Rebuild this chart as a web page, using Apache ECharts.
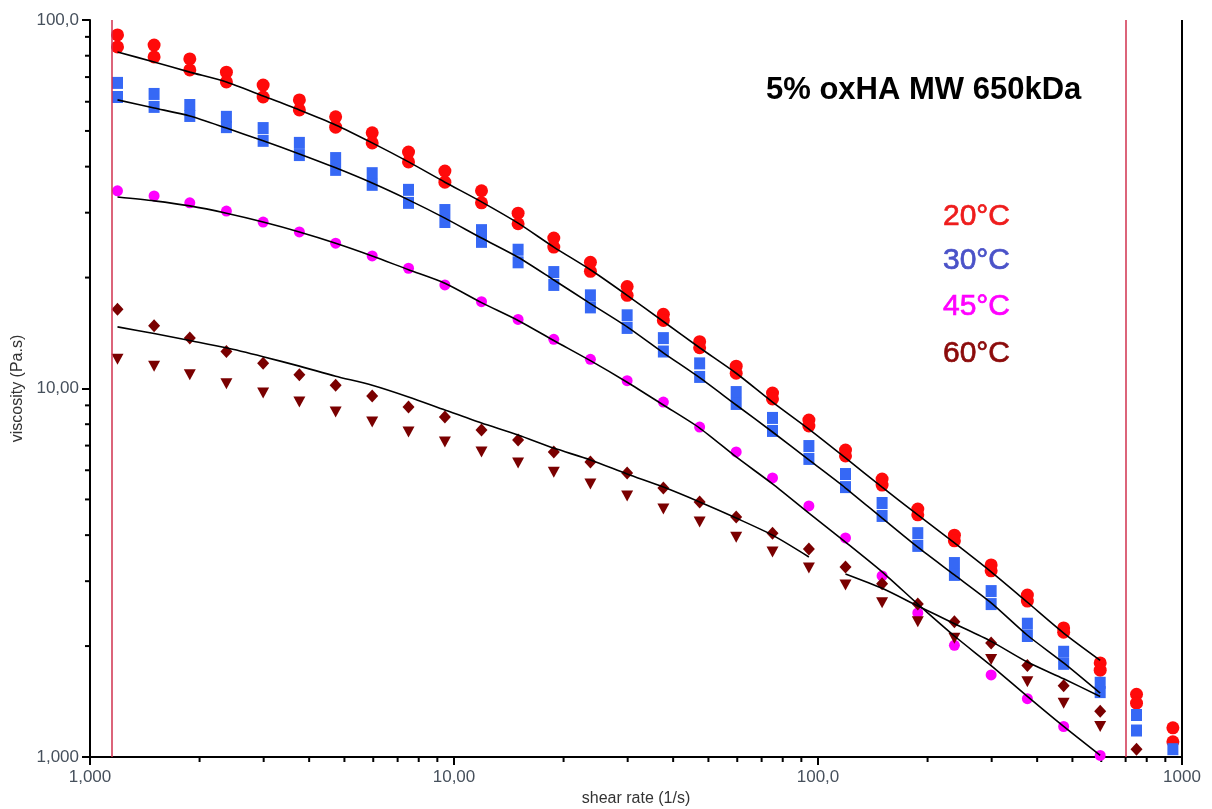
<!DOCTYPE html>
<html><head><meta charset="utf-8">
<script src="https://cdn.jsdelivr.net/npm/echarts@6/dist/echarts.min.js"></script>
<style>html,body{margin:0;padding:0;background:#fff}#chart{width:1212px;height:809px}</style>
</head><body><div id="chart"></div>
<script>
// ---- data ----
const shearRate = [1.19,1.50,1.88,2.37,2.99,3.76,4.73,5.96,7.50,9.44,11.9,15.0,18.8,23.7,29.9,37.6,47.3,59.6,75.0,94.4,119,150,188,237,299,376,473,596,750,944];

const red20A = [91.1,85.5,78.4,72.2,66.6,60.7,54.6,49.4,43.8,38.9,34.4,29.9,25.6,22.0,18.9,15.9,13.4,11.5,9.72,8.21,6.81,5.68,4.71,4.00,3.32,2.75,2.24,1.80,1.48,1.20];
const red20B = [84.5,79.4,73.2,67.9,61.8,57.0,51.2,46.4,41.2,36.3,31.9,28.0,24.2,20.8,17.9,15.3,12.9,11.0,9.37,7.91,6.56,5.47,4.54,3.86,3.20,2.65,2.18,1.72,1.40,1.10];
const blue30A = [67.5,63.0,58.8,54.6,50.9,46.4,42.2,38.4,34.6,30.5,26.9,23.8,20.7,17.9,15.8,13.7,11.7,9.78,8.32,6.98,5.86,4.89,4.05,3.36,2.82,2.30,1.93,1.59,1.30,1.05];
const blue30B = [61.8,58.1,54.9,51.2,47.0,43.0,39.2,35.7,31.9,28.3,25.0,22.0,19.1,16.6,14.6,12.6,10.75,9.08,7.67,6.44,5.40,4.51,3.74,3.12,2.60,2.13,1.79,1.50,1.18,null];
const mag45 = [34.4,33.3,31.9,30.3,28.3,26.6,24.8,22.9,21.2,19.1,17.2,15.4,13.6,12.0,10.5,9.19,7.86,6.73,5.72,4.80,3.93,3.10,2.46,2.01,1.67,1.44,1.21,1.01,null,null];
const dark60Diamond = [16.4,14.8,13.7,12.6,11.7,10.9,10.2,9.54,8.91,8.37,7.72,7.25,6.73,6.32,5.90,5.37,4.92,4.48,4.05,3.67,3.28,2.95,2.60,2.33,2.04,1.77,1.56,1.33,1.05,null];
const dark60Triangle = [12.0,11.5,10.9,10.3,9.72,9.19,8.63,8.11,7.62,7.16,6.73,6.28,5.93,5.51,5.11,4.71,4.34,3.95,3.60,3.26,2.93,2.62,2.33,2.10,1.84,1.60,1.40,1.21,null,null];

// fitted model curves (black lines)
const red20Fit = [81.9,76.9,72.2,67.9,62.2,57.0,51.9,46.4,41.2,36.3,32.1,28.1,24.2,21.0,17.9,15.2,12.9,11.0,9.19,7.76,6.48,5.40,4.54,3.81,3.18,2.63,2.17,1.83];
const blue30Fit = [60.7,57.7,54.9,50.9,47.0,43.3,39.7,36.1,32.5,29.0,25.6,22.7,19.7,17.0,14.7,12.5,10.7,9.02,7.62,6.40,5.37,4.45,3.71,3.12,2.62,2.14,1.80,1.49];
const mag45Fit = [33.1,32.3,31.3,29.9,28.3,26.6,24.8,22.9,21.0,19.3,17.1,15.3,13.5,11.9,10.4,9.02,7.81,6.52,5.51,4.59,3.83,3.18,2.60,2.13,1.77,1.46,1.21,1.01];
const dark60Fit1 = [14.7,14.1,13.5,12.9,12.2,11.5,10.8,10.2,9.48,8.74,8.06,7.48,6.89,6.40,5.86,5.40,4.92,4.45,4.00,3.49];
const dark60Fit2 = [3.14,2.87,2.57,2.30,2.06,1.81,1.63,1.46];
const dark60Fit2Start = 20;

// range limits (red vertical lines) and right frame
const rangeLimits = [1.149, 702];
const rightFrame = 1000;

// axes
const xTickValues = [1,10,100,1000];
const xTickLabels = ["1,000","10,00","100,0","1000"];
const yTickValues = [1,10,100];
const yTickLabels = ["1,000","10,00","100,0"];
const xMinorTicks = [2,3,4,5,6,7,8,9,20,30,40,50,60,70,80,90,200,300,400,500,600,700,800,900];
const yMinorTicks = [2,3,4,5,6,7,8,9,20,30,40,50,60,70,80,90];

const titleText = "5% oxHA MW 650kDa";
const legendLabels = ["20°C","30°C","45°C","60°C"];

// ---- chart ----
function pairs(ys, start) {
  start = start || 0;
  const out = [];
  ys.forEach((v, i) => { if (v != null) out.push([shearRate[i + start], v]); });
  return out;
}
function lookup(vals, labels, v) {
  for (let i = 0; i < vals.length; i++) if (Math.abs(v - vals[i]) / vals[i] < 1e-6) return labels[i];
  return '';
}
const labelColor = '#46505c';
const chart = echarts.init(document.getElementById('chart'), null, {renderer: 'canvas'});

function scatter(name, data, color, symbol, size, rotate) {
  return {name, type: 'scatter', data, symbol, symbolSize: size, symbolRotate: rotate || 0,
    itemStyle: {color, opacity: 1}, z: 3, silent: true, animation: false};
}
function fitLine(data) {
  return {type: 'line', data, showSymbol: false, smooth: 0.25, lineStyle: {color: '#000', width: 1.6},
    z: 5, silent: true, animation: false};
}
const legendColors = ['#ee1c1c', '#4a52c8', '#ff00ff', '#8b0a0a'];

const option = {
  backgroundColor: '#fff',
  animation: false,
  title: {
    text: titleText, left: 761, top: 70,
    textStyle: {fontFamily: 'Liberation Sans', fontWeight: 'bold', fontSize: 31, color: '#000'}
  },
  graphic: legendLabels.map((t, i) => ({
    type: 'text', x: 1010, y: [217, 261, 307, 354][i],
    style: {text: t, align: 'right', verticalAlign: 'middle', fontFamily: 'Liberation Sans', fontSize: 30,
      fill: legendColors[i], stroke: legendColors[i], lineWidth: 0.7}
  })),
  grid: {left: 90, right: 30, top: 20, bottom: 52, containLabel: false, outerBoundsMode: 'none'},
  xAxis: {
    type: 'log', logBase: 10, min: 1, max: 1000,
    name: 'shear rate (1/s)', nameLocation: 'middle', nameGap: 33,
    nameTextStyle: {fontFamily: 'Liberation Sans', fontSize: 16, color: '#333'},
    axisLine: {show: true, lineStyle: {color: '#000', width: 2}},
    axisTick: {show: true, length: 8, lineStyle: {color: '#000', width: 2}},
    axisLabel: {fontFamily: 'Liberation Sans', fontSize: 17, color: labelColor, margin: 12,
      formatter: v => lookup(xTickValues, xTickLabels, v)},
    splitLine: {show: false}
  },
  yAxis: {
    type: 'log', logBase: 10, min: 1, max: 100,
    name: 'viscosity (Pa.s)', nameLocation: 'middle', nameGap: 62,
    nameTextStyle: {fontFamily: 'Liberation Sans', fontSize: 16, color: '#333'},
    axisLine: {show: true, lineStyle: {color: '#000', width: 2}},
    axisTick: {show: true, length: 8, lineStyle: {color: '#000', width: 2}},
    axisLabel: {fontFamily: 'Liberation Sans', fontSize: 17, color: labelColor, margin: 11,
      formatter: v => lookup(yTickValues, yTickLabels, v)},
    splitLine: {show: false}
  },
  series: [
    {
      type: 'custom', name: 'xMinor', data: xMinorTicks.map(v => [v, 1]), silent: true, clip: false,
      renderItem: (params, api) => {
        const p = api.coord([api.value(0), 1]);
        return {type: 'line', shape: {x1: p[0], y1: p[1], x2: p[0], y2: p[1] + 5},
          style: {stroke: '#000', lineWidth: 2}};
      }
    },
    {
      type: 'custom', name: 'yMinor', data: yMinorTicks.map(v => [1, v]), silent: true, clip: false,
      renderItem: (params, api) => {
        const p = api.coord([1, api.value(1)]);
        return {type: 'line', shape: {x1: p[0], y1: p[1], x2: p[0] - 5, y2: p[1]},
          style: {stroke: '#000', lineWidth: 2}};
      }
    },
    {
      type: 'line', data: [], silent: true,
      markLine: {
        symbol: ['none', 'none'], silent: true, animation: false, label: {show: false},
        data: [
          {xAxis: rangeLimits[0], lineStyle: {color: '#d0304e', width: 1.5, type: 'solid'}},
          {xAxis: rangeLimits[1], lineStyle: {color: '#d0304e', width: 1.5, type: 'solid'}},
          {xAxis: rightFrame, lineStyle: {color: '#000', width: 2, type: 'solid'}}
        ]
      }
    },
    scatter('20°C A', pairs(red20A), '#ff0a0a', 'circle', 13),
    scatter('20°C B', pairs(red20B), '#ff0a0a', 'circle', 13),
    scatter('30°C A', pairs(blue30A), '#3668f5', 'rect', [11, 12]),
    scatter('30°C B', pairs(blue30B), '#3668f5', 'rect', [11, 12]),
    scatter('45°C', pairs(mag45), '#ff00ff', 'circle', 11),
    scatter('60°C diamond', pairs(dark60Diamond), '#7a0000', 'diamond', [12, 13]),
    scatter('60°C triangle', pairs(dark60Triangle), '#7a0000', 'triangle', [12, 11], 180),
    fitLine(pairs(red20Fit)),
    fitLine(pairs(blue30Fit)),
    fitLine(pairs(mag45Fit)),
    fitLine(pairs(dark60Fit1)),
    fitLine(pairs(dark60Fit2, dark60Fit2Start))
  ]
};
chart.setOption(option);
</script></body></html>
